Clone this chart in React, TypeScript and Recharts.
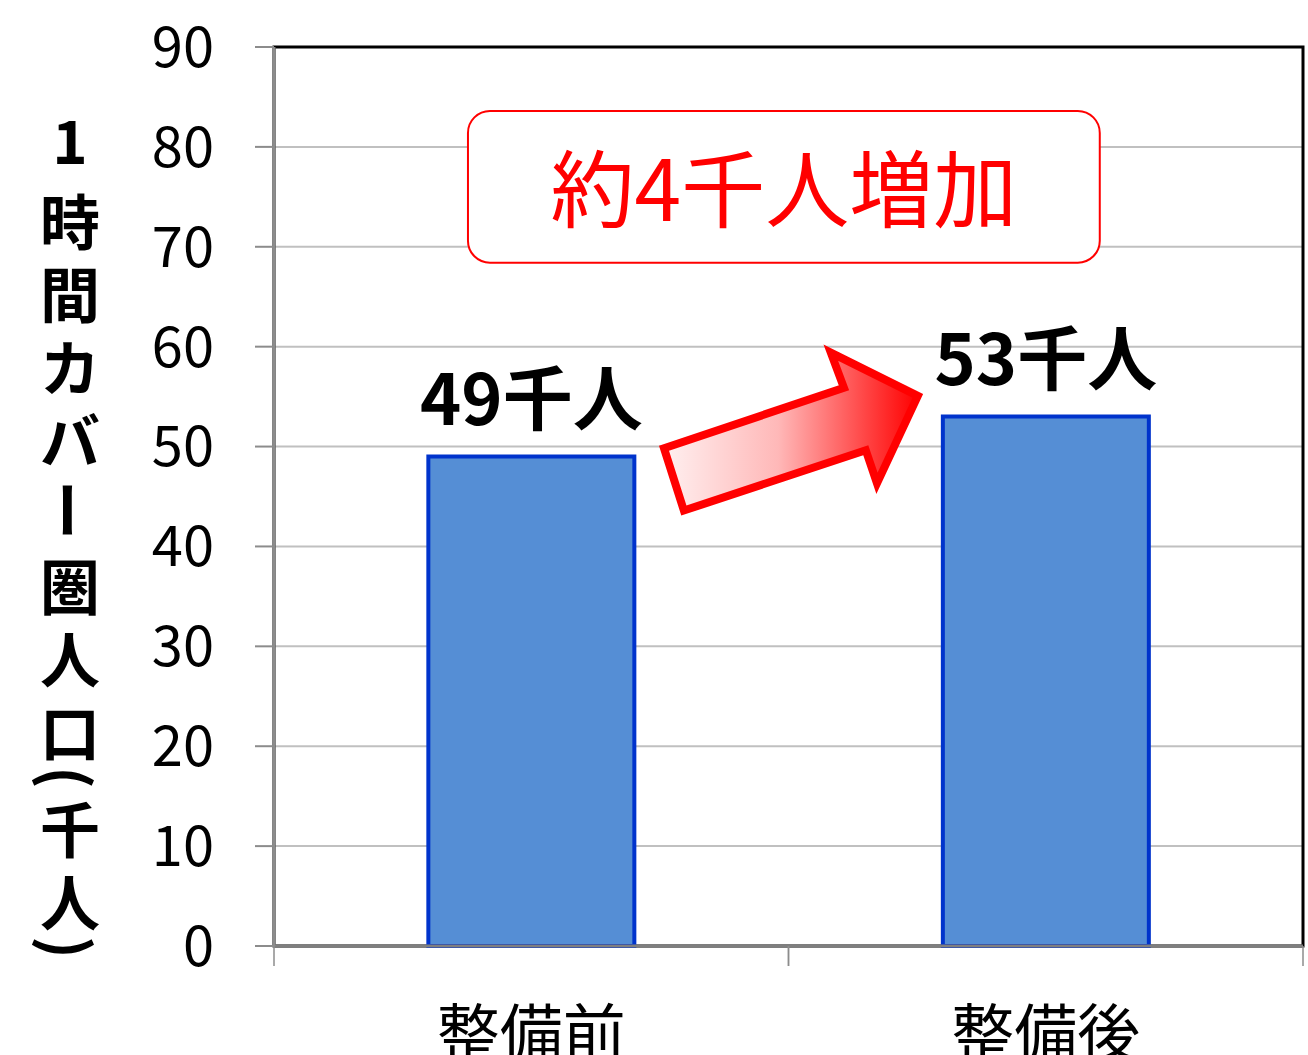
import { BarChart, Bar, XAxis, YAxis, CartesianGrid, ReferenceArea, LabelList } from "recharts";

const categories = ["整備前", "整備後"];
const population = [49, 53];
const yTicks = [0, 10, 20, 30, 40, 50, 60, 70, 80, 90];
const yLabelChars = ["1", "時", "間", "カ", "バ", "ー", "圏", "人", "口", "(", "千", "人", ")"];
const annotationText = "約4千人増加";

const data = categories.map((name, i) => ({ name, value: population[i] }));

const FONT = "'Noto Sans CJK JP', 'Noto Sans', sans-serif";
const CHART_W = 1308;
const CHART_H = 1055;
const MARGIN = { top: 47, right: 5, bottom: 0, left: 0 };
const Y_AXIS_W = 274;
const PLOT_W = CHART_W - Y_AXIS_W - MARGIN.left - MARGIN.right;
const HALF_BAND = PLOT_W / categories.length / 2;

const isParen = (ch: string) => ch === "(" || ch === ")";

function YAxisLabel() {
  // vertical, stacked characters; parens and the long-vowel mark turned sideways
  const items: { ch: string; cy: number; turn: boolean }[] = [];
  let cy = 218;
  yLabelChars.forEach((ch, i) => {
    const turn = isParen(ch) || ch === "ー";
    if (i === 0) {
      items.push({ ch, cy: 137, turn });
      return;
    }
    if (i > 1) {
      const prevHalf = isParen(yLabelChars[i - 1]) ? 12 : 36.5;
      cy += prevHalf + (isParen(ch) ? 12 : 36.5);
    }
    items.push({ ch, cy, turn });
  });
  return (
    <g>
      {items.map((it, i) => (
        <text
          key={i}
          x={70}
          y={it.cy}
          textAnchor="middle"
          dominantBaseline="central"
          fontFamily={FONT}
          fontWeight={700}
          fontSize={60}
          fill="#000"
          transform={it.turn ? `rotate(90 70 ${it.cy})` : undefined}
        >
          {it.ch}
        </text>
      ))}
    </g>
  );
}

function CategoryTick(props: any) {
  const { x, y, payload } = props;
  return (
    <g>
      <line x1={x - HALF_BAND} x2={x - HALF_BAND} y1={y} y2={y + 20} stroke="#8c8c8c" strokeWidth={1.5} />
      <line x1={x + HALF_BAND} x2={x + HALF_BAND} y1={y} y2={y + 20} stroke="#8c8c8c" strokeWidth={1.5} />
      <text
        x={x}
        y={y + 82}
        textAnchor="middle"
        dominantBaseline="central"
        fontFamily={FONT}
        fontSize={63}
        fill="#000"
      >
        {payload.value}
      </text>
    </g>
  );
}

function AnnotationBox(props: any) {
  const { x, y, width, height } = props;
  const bx = x + 0.1885 * width;
  const bw = (0.8025 - 0.1885) * width;
  return (
    <g>
      <rect x={bx} y={y} width={bw} height={height} rx={22} ry={22} fill="#fff" stroke="#ff0000" strokeWidth={2} />
      <text
        x={bx + bw / 2}
        y={y + height / 2 - 2}
        textAnchor="middle"
        dominantBaseline="central"
        fontFamily={FONT}
        fontSize={84}
        fill="#ff0000"
      >
        {annotationText}
      </text>
    </g>
  );
}

function ArrowShape(props: any) {
  const { x: px, y, width: pw, height: h } = props;
  const x = px + 0.3605 * pw;
  const w = (0.6325 - 0.3605) * pw;
  const pts = [
    [0.068, 0.606],
    [0.711, 0.253],
    [0.664, 0.047],
    [0.975, 0.3],
    [0.829, 0.812],
    [0.789, 0.618],
    [0.139, 0.971],
  ]
    .map(([fx, fy]) => `${x + fx * w},${y + fy * h}`)
    .join(" ");
  return (
    <g>
      <defs>
        <linearGradient id="arrowGrad" x1="0" y1="0" x2="1" y2="0">
          <stop offset="0%" stopColor="#fff0f0" />
          <stop offset="45%" stopColor="#ffb8b8" />
          <stop offset="100%" stopColor="#ff0000" />
        </linearGradient>
      </defs>
      <polygon points={pts} fill="url(#arrowGrad)" stroke="#ff0000" strokeWidth={8} strokeLinejoin="miter" />
    </g>
  );
}

export default function App() {
  return (
    <div style={{ position: "fixed", left: 0, top: 0, background: "#fff" }}>
      <BarChart width={CHART_W} height={CHART_H} data={data} margin={MARGIN} barCategoryGap="30%">
        <CartesianGrid vertical={false} stroke="#c0c0c0" strokeWidth={2} />
        <XAxis
          dataKey="name"
          type="category"
          height={109}
          interval={0}
          tickLine={false}
          tickSize={0}
          tickMargin={0}
          axisLine={{ stroke: "#7f7f7f", strokeWidth: 3 }}
          tick={<CategoryTick />}
        />
        <YAxis
          domain={[0, 90]}
          ticks={yTicks}
          interval={0}
          width={Y_AXIS_W}
          tickSize={19}
          tickMargin={41}
          tickLine={{ stroke: "#8c8c8c", strokeWidth: 2 }}
          axisLine={{ stroke: "#8c8c8c", strokeWidth: 3 }}
          tick={{ fontFamily: FONT, fontSize: 56, fill: "#000" }}
          label={{ content: <YAxisLabel /> }}
        />
        <ReferenceArea y1={0} y2={90} fill="none" stroke="#000" strokeWidth={3} ifOverflow="visible" />
        <ReferenceArea y1={68.4} y2={83.6} ifOverflow="visible" shape={<AnnotationBox />} />
        <ReferenceArea y1={43.1} y2={60.2} ifOverflow="visible" shape={<ArrowShape />} />
        <Bar dataKey="value" fill="#558ed5" stroke="#0033cc" strokeWidth={4} isAnimationActive={false}>
          <LabelList
            dataKey="value"
            position="top"
            offset={32}
            formatter={(v: any) => `${v}千人`}
            style={{ fontFamily: FONT, fontSize: 70, fontWeight: 700, fill: "#000" }}
          />
        </Bar>
      </BarChart>
    </div>
  );
}
